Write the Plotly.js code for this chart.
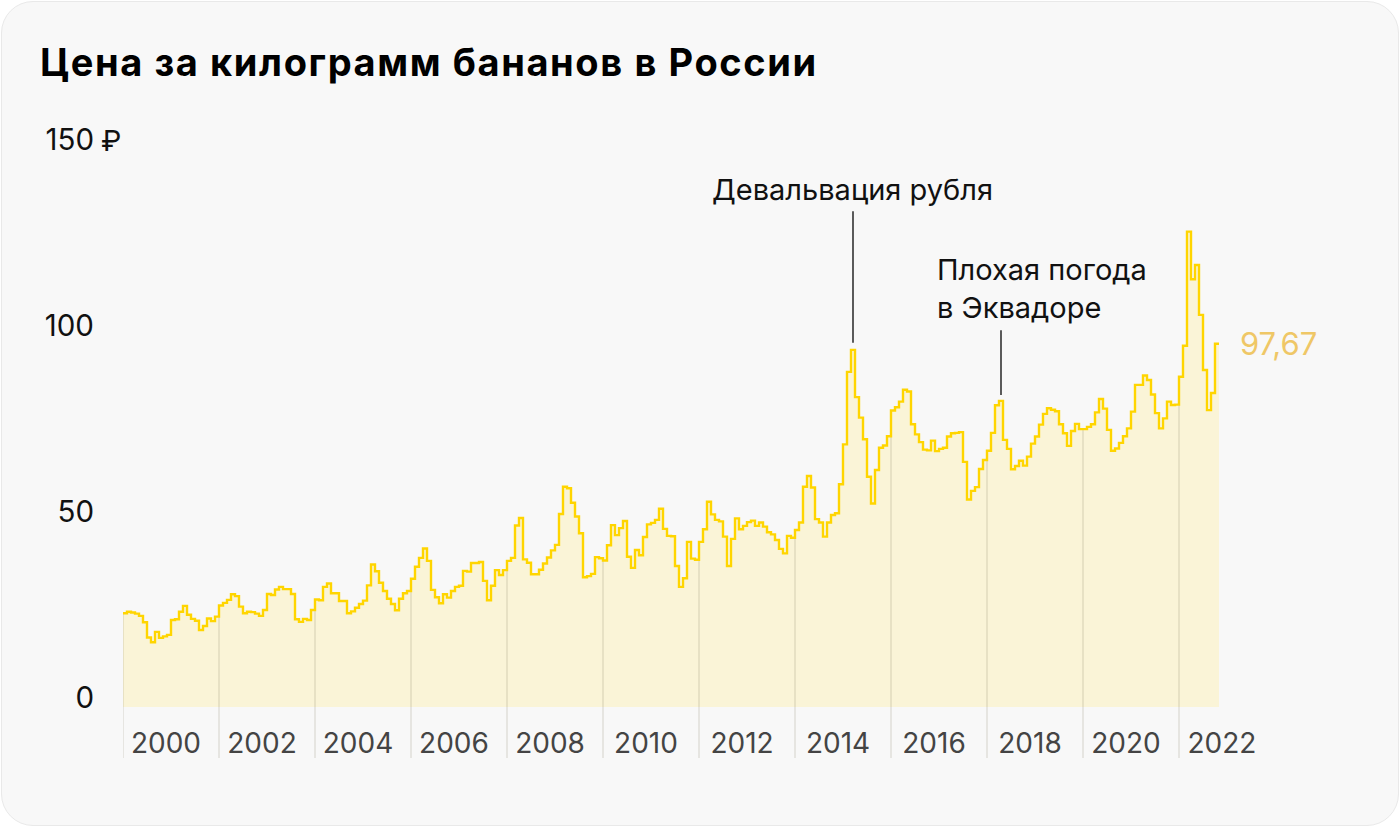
<!DOCTYPE html>
<html lang="ru">
<head>
<meta charset="UTF-8">
<title>Цена за килограмм бананов в России</title>
<script src="https://cdn.plot.ly/plotly-3.0.1.min.js"></script>
<style>
    html, body { margin: 0; padding: 0; background: #ffffff; }
    #card {
        position: absolute;
        left: 1px; top: 1px;
        width: 1396px; height: 823px;
        border: 1px solid #e9e9e9;
        border-radius: 32px;
        background: #f8f8f8;
    }
    #chart { position: absolute; left: 0; top: 0; width: 1400px; height: 828px; }
    #chart .gtitle { letter-spacing: 1.6px; }
</style>
</head>
<body>
<div id="card"></div>
<div id="chart"></div>
<script>
    // monthly price of 1 kg of bananas, rubles, Jan 2000 .. Oct 2022
    const startYear = 2000;
    const price = [
        25.2, 25.6, 25.4, 25.1, 24.5, 22.8, 18.7, 17.4, 20.2, 18.6, 19.0, 19.4,   // 2000
        23.4, 23.6, 25.6, 27.2, 24.8, 23.7, 23.2, 20.7, 21.8, 23.8, 23.1, 24.3,   // 2001
        27.3, 28.0, 28.8, 30.3, 29.8, 27.0, 25.2, 25.6, 25.5, 25.1, 24.5, 26.1,   // 2002
        30.4, 30.1, 31.6, 32.3, 31.7, 31.7, 30.4, 23.6, 22.9, 23.7, 23.4, 26.1,   // 2003
        28.9, 28.7, 32.3, 33.2, 30.6, 30.6, 28.5, 28.5, 25.2, 25.7, 26.7, 27.7,   // 2004
        28.6, 32.7, 38.3, 36.5, 33.4, 31.2, 29.1, 27.7, 26.0, 29.1, 30.6, 31.2,   // 2005
        34.5, 37.7, 40.1, 42.6, 39.3, 31.5, 29.5, 27.9, 30.3, 29.4, 31.2, 32.3,   // 2006
        32.6, 36.6, 36.4, 38.7, 38.7, 39.0, 33.9, 28.7, 32.6, 36.8, 35.5, 36.8,   // 2007
        39.3, 40.1, 48.8, 50.8, 39.7, 38.8, 35.7, 35.7, 36.9, 38.6, 40.2, 42.1,   // 2008
        43.6, 51.9, 59.2, 58.8, 54.9, 51.2, 46.7, 34.9, 35.2, 35.8, 40.3, 40.0,   // 2009
        39.4, 43.5, 48.9, 46.2, 48.1, 50.0, 40.4, 37.4, 42.2, 40.8, 45.7, 49.1,   // 2010
        49.5, 50.3, 53.3, 47.9, 46.0, 45.9, 37.9, 32.3, 34.6, 44.4, 39.9, 39.6,   // 2011
        44.4, 47.8, 55.2, 51.8, 50.3, 49.9, 45.8, 37.9, 45.2, 50.7, 47.8, 48.7,   // 2012
        49.7, 50.1, 48.7, 49.6, 48.5, 47.0, 46.4, 44.9, 42.5, 41.3, 46.0, 45.5,   // 2013
        47.6, 49.6, 59.2, 62.1, 59.0, 50.5, 49.6, 45.8, 49.6, 51.6, 52.1, 59.9,   // 2014
        70.6, 90.1, 96.0, 83.3, 77.8, 72.0, 61.9, 54.7, 63.7, 69.7, 70.3, 72.8,   // 2015
        79.7, 80.6, 82.1, 85.3, 84.8, 76.0, 73.3, 71.2, 69.2, 69.0, 71.6, 68.8,   // 2016
        69.4, 69.7, 72.7, 73.6, 73.7, 73.9, 65.9, 55.8, 58.1, 59.1, 64.0, 66.4,   // 2017
        68.9, 73.7, 81.1, 82.3, 71.8, 69.4, 63.9, 64.8, 66.2, 64.9, 67.3, 70.8,   // 2018
        72.7, 75.9, 78.8, 80.3, 79.9, 79.5, 76.0, 73.6, 70.2, 74.2, 76.1, 74.7,   // 2019
        74.7, 75.3, 76.0, 79.2, 82.8, 80.2, 74.5, 68.9, 69.5, 71.0, 72.8, 74.9,   // 2020
        79.4, 86.6, 86.6, 89.1, 87.9, 84.0, 79.0, 74.9, 77.6, 82.1, 81.2, 81.3,   // 2021
        88.8, 97.1, 127.8, 115.0, 118.8, 105.4, 90.6, 79.8, 84.4, 97.67         // 2022
    ];
    const tickYears = [2000, 2002, 2004, 2006, 2008, 2010, 2012, 2014, 2016, 2018, 2020, 2022];
    const yTicks = [0, 50, 100, 150];
    const notes = [
        {text: 'Девальвация рубля', year: 2015, month: 3},
        {text: 'Плохая погода<br>в Эквадоре', year: 2018, month: 4}
    ];

    const yellow = '#ffd500';
    const fillColor = '#faf4d7';
    const font = 'Inter, "Noto Sans", sans-serif';

    const toX = (i) => startYear + i / 12;
    let xs = price.map((v, i) => toX(i));
    let ys = price.slice();
    // close the last monthly step
    xs.push(toX(price.length));
    ys.push(price[price.length - 1]);

    const yBottom = -13.7;
    let gx = [], gy = [];
    tickYears.forEach(function (yr) {
        let i = (yr - startYear) * 12;
        gx.push(yr, yr, null);
        gy.push(yBottom, price[i], null);
    });

    const fillTrace = {
        x: xs, y: ys, type: 'scatter', mode: 'lines',
        line: {shape: 'hv', width: 0, color: fillColor},
        fill: 'tozeroy', fillcolor: fillColor, hoverinfo: 'skip'
    };
    const gridTrace = {
        x: gx, y: gy, type: 'scatter', mode: 'lines',
        line: {color: 'rgba(120,115,90,0.18)', width: 1.6}, hoverinfo: 'skip'
    };
    const lineTrace = {
        x: xs, y: ys, type: 'scatter', mode: 'lines',
        line: {shape: 'hv', width: 2.4, color: yellow}
    };

    let shapes = [];
    let annotations = [];
    const pointAt = (n) => {
        let i = (n.year - startYear) * 12 + n.month - 1;
        return {x: toX(i + 0.5), y: price[i]};
    };

    let p1 = pointAt(notes[0]);
    shapes.push({type: 'line', xref: 'x', yref: 'y', x0: p1.x, x1: p1.x, y0: p1.y + 1.9, y1: 133.3,
        line: {color: '#333', width: 1.6}});
    annotations.push({xref: 'x', yref: 'y', x: p1.x, xshift: -1, y: 139, text: notes[0].text, showarrow: false,
        xanchor: 'center', yanchor: 'middle', font: {family: font, size: 29, color: '#111'}});

    let p2 = pointAt(notes[1]);
    shapes.push({type: 'line', xref: 'x', yref: 'y', x0: p2.x, x1: p2.x, y0: p2.y + 1.6, y1: 101.3,
        line: {color: '#333', width: 1.6}});
    annotations.push({xref: 'x', yref: 'y', x: p2.x, xshift: -66, y: 103.3, yshift: -4, text: notes[1].text,
        showarrow: false, xanchor: 'left', yanchor: 'bottom', align: 'left',
        font: {family: font, size: 29, color: '#111'}});

    let last = price[price.length - 1];
    annotations.push({xref: 'x', yref: 'y', x: toX(price.length), xshift: 19, y: last,
        text: last.toFixed(2).replace('.', ','), showarrow: false, xanchor: 'left', yanchor: 'middle',
        font: {family: font, size: 31, color: '#efc766'}});
    // currency sign next to the top tick
    annotations.push({xref: 'paper', yref: 'y', x: (99 - 123) / 1147, y: 150, yshift: 9, text: '₽',
        showarrow: false, xanchor: 'left', yanchor: 'middle', font: {family: font, size: 29, color: '#111'}});

    const layout = {
        width: 1400, height: 828,
        paper_bgcolor: 'rgba(0,0,0,0)', plot_bgcolor: 'rgba(0,0,0,0)',
        // 48 px per year on x, 3.72 px per ruble on y
        margin: {l: 123, r: 130, t: 149, b: 70},
        showlegend: false,
        font: {family: font, size: 28, color: '#111'},
        title: {
            text: 'Цена за килограмм бананов в России',
            font: {family: font, size: 38, weight: 700, color: '#000'},
            xref: 'container', yref: 'container', x: 40 / 1400, xanchor: 'left',
            y: 1 - 63 / 828, yanchor: 'middle'
        },
        xaxis: {
            range: [startYear, startYear + 1147 / 48],
            tickvals: tickYears, ticktext: tickYears.map(String),
            ticks: '', showgrid: false, zeroline: false, showline: false,
            ticklabelposition: 'inside', ticklabelshift: 43, ticklabelstandoff: -4,
            fixedrange: true
        },
        yaxis: {
            range: [yBottom, 150],
            tickvals: yTicks, ticktext: yTicks.map(String),
            tickfont: {family: font, size: 29.5, color: '#111'},
            ticks: '', showgrid: false, zeroline: false, showline: false,
            ticklabelshift: -9, ticklabelstandoff: 28,
            fixedrange: true
        },
        shapes: shapes,
        annotations: annotations
    };

    Plotly.newPlot('chart', [fillTrace, gridTrace, lineTrace], layout, {displayModeBar: false, staticPlot: true});
</script>
</body>
</html>
